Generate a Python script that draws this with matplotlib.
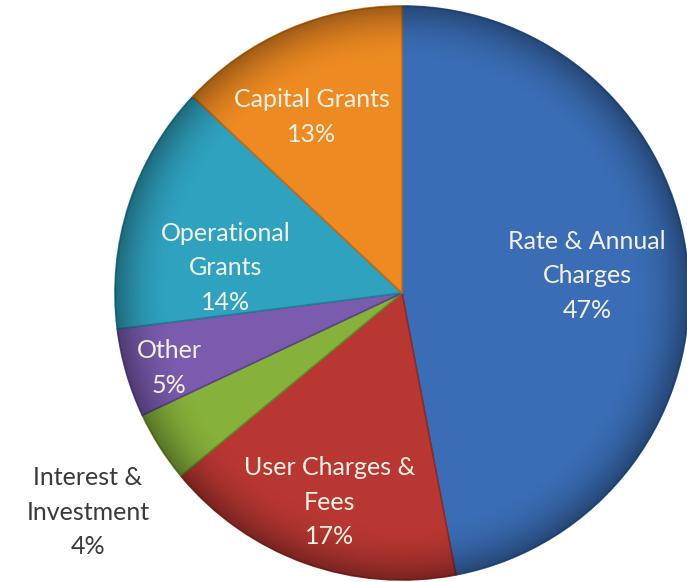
import numpy as np
import matplotlib
matplotlib.use("Agg")
import matplotlib.pyplot as plt
from matplotlib.patches import Circle

categories = ["Rate & Annual\nCharges", "User Charges &\nFees", "Interest &\nInvestment",
              "Other", "Operational\nGrants", "Capital Grants"]
values = [47, 17, 4, 5, 14, 13]
colors = ["#3A6DB5", "#B93732", "#86B13A", "#7A5BAE", "#2FA2BF", "#EE8A22"]
edge_colors = ["#2B5591", "#8E2A27", "#66892A", "#5C4388", "#237D95", "#C46C15"]

W, H = 687, 582
R_PX = 287.0
CX, CY = 402.0, 293.0  # pixel centre (from top-left)

fig = plt.figure(figsize=(W / 100, H / 100), dpi=100)
ax = fig.add_axes([0, 0, 1, 1])
ax.axis("off")

wedges, _ = ax.pie(values, colors=colors, startangle=90, counterclock=False,
                   radius=1.0, wedgeprops=dict(linewidth=1.2))
for w, ec in zip(wedges, edge_colors):
    w.set_edgecolor(ec)

# subtle bevel / shading overlay
n = 600
xs = np.linspace(-1, 1, n)
X, Y = np.meshgrid(xs, xs)
Rr = np.sqrt(X ** 2 + Y ** 2)
shade = np.clip((Rr - 0.80) / 0.20, 0, 1) ** 2 * 0.35
rgba = np.zeros((n, n, 4))
rgba[..., 3] = shade
im = ax.imshow(rgba, extent=(-1, 1, -1, 1), origin="lower", zorder=3, interpolation="bilinear")
im.set_clip_path(Circle((0, 0), 1.0, transform=ax.transData))

ax.set_xlim(-CX / R_PX, (W - CX) / R_PX)
ax.set_ylim(-(H - CY) / R_PX, CY / R_PX)
ax.set_aspect("auto")

# label anchor points (pixel coords in reference, converted to data units)
label_px = [(587, 276), (330, 502), (88, 512), (169, 368), (226, 268), (312, 117)]
inside_color = "#F3F1E4"
outside_color = "#3A3A3A"
for cat, val, (px, py) in zip(categories, values, label_px):
    x = (px - CX) / R_PX
    y = (CY - py) / R_PX
    col = outside_color if cat.startswith("Interest") else inside_color
    ax.text(x, y, f"{cat}\n{val}%", ha="center", va="center", fontsize=18,
            family=["Lato", "DejaVu Sans"], color=col, linespacing=1.6, zorder=5)

fig.savefig("out.png", dpi=100)
